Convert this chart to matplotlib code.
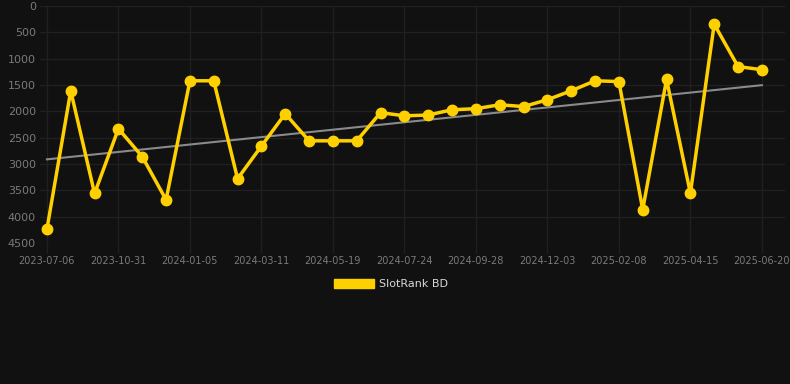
import numpy as np
from matplotlib import pyplot as plt
from matplotlib.patches import Patch

# rank history (lower is better, axis is inverted)
dates = ['2023-07-06', '2023-08-14', '2023-09-22', '2023-10-31', '2023-11-22', '2023-12-14',
         '2024-01-05', '2024-01-27', '2024-02-18', '2024-03-11', '2024-04-03', '2024-04-26',
         '2024-05-19', '2024-06-10', '2024-07-02', '2024-07-24', '2024-08-15', '2024-09-06',
         '2024-09-28', '2024-10-20', '2024-11-11', '2024-12-03', '2024-12-25', '2025-01-17',
         '2025-02-08', '2025-03-02', '2025-03-24', '2025-04-15', '2025-05-07', '2025-05-29',
         '2025-06-20']
ranks = [4240, 1610, 3560, 2330, 2860, 3680,
         1420, 1420, 3280, 2660, 2045, 2560,
         2560, 2560, 2025, 2085, 2070, 1970,
         1950, 1875, 1910, 1780, 1610, 1420,
         1435, 3865, 1395, 3555, 345, 1150,
         1210]
series_name = 'SlotRank BD'

BG = '#111111'
GOLD = '#FFD000'
GRID = '#202020'

fig = plt.figure(figsize=(7.9, 3.84), dpi=100, facecolor=BG)
ax = fig.add_axes([40 / 790, 141 / 384, 745 / 790, 237 / 384], facecolor=BG)

x = np.arange(len(dates))
y = np.array(ranks, dtype=float)

# linear trend
k, b = np.polyfit(x, y, 1)
ax.plot(x, k * x + b, color='#8a8a8a', linewidth=1.5, zorder=2)

ax.plot(x, y, color=GOLD, linewidth=2.5, marker='o', markersize=7.5,
        solid_joinstyle='miter', zorder=3)

ax.set_xlim(-0.29, 30.97)
ax.set_ylim(4500, 0)
ax.set_yticks(np.arange(0, 4501, 500))
ax.set_xticks(x[::3])
ax.set_xticklabels(dates[::3])

ax.grid(True, color=GRID, linewidth=1)
ax.set_axisbelow(True)
for s in ax.spines.values():
    s.set_visible(False)
ax.tick_params(axis='x', colors=GRID, length=7, width=1, labelcolor='#7a7a7a', labelsize=7, pad=2)
ax.tick_params(axis='y', colors=GRID, length=0, labelcolor='#7a7a7a', labelsize=8, pad=3)

handle = Patch(facecolor=GOLD, edgecolor=GOLD)
fig.legend([handle], [series_name], loc='center', bbox_to_anchor=(0.495, 1 - 284 / 384),
           frameon=False, labelcolor='#d8d8d8', fontsize=8,
           handlelength=3.6, handleheight=0.9, handletextpad=0.5)

fig.savefig('out.png', dpi=100, facecolor=BG)
